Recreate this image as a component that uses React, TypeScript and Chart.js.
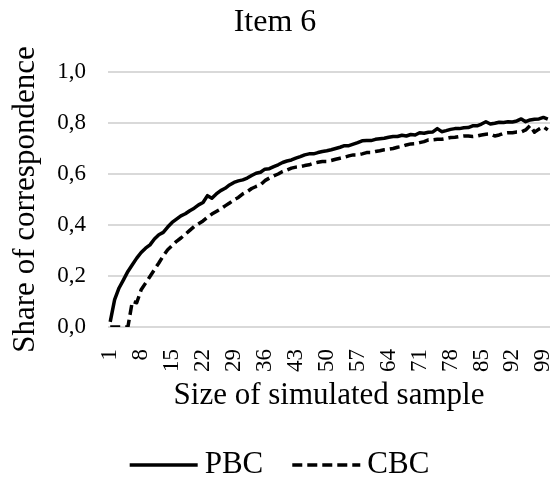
import React, { useEffect, useRef } from 'react';
import { Chart, registerables } from 'chart.js';

Chart.register(...registerables);

const FONT = "'Times New Roman', 'Liberation Serif', serif";

const chartTitle = 'Item 6';
const xAxisTitle = 'Size of simulated sample';
const yAxisTitle = 'Share of correspondence';

const sampleSizes = [
  '1', '2', '3', '4', '5', '6', '7', '8', '9', '10',
  '11', '12', '13', '14', '15', '16', '17', '18', '19', '20',
  '21', '22', '23', '24', '25', '26', '27', '28', '29', '30',
  '31', '32', '33', '34', '35', '36', '37', '38', '39', '40',
  '41', '42', '43', '44', '45', '46', '47', '48', '49', '50',
  '51', '52', '53', '54', '55', '56', '57', '58', '59', '60',
  '61', '62', '63', '64', '65', '66', '67', '68', '69', '70',
  '71', '72', '73', '74', '75', '76', '77', '78', '79', '80',
  '81', '82', '83', '84', '85', '86', '87', '88', '89', '90',
  '91', '92', '93', '94', '95', '96', '97', '98', '99', '100',
];

const xTickLabels = ['1', '8', '15', '22', '29', '36', '43', '50', '57', '64', '71', '78', '85', '92', '99'];
const yTickValues = [0, 0.2, 0.4, 0.6, 0.8, 1.0];
const yTickLabels = ['0,0', '0,2', '0,4', '0,6', '0,8', '1,0'];

const pbcLabel = 'PBC';
const cbcLabel = 'CBC';

const pbcValues = [
  0.02, 0.107, 0.153, 0.185, 0.218, 0.244, 0.27, 0.292, 0.309, 0.322,
  0.345, 0.362, 0.371, 0.392, 0.41, 0.423, 0.436, 0.444, 0.456, 0.466,
  0.479, 0.488, 0.515, 0.505, 0.522, 0.535, 0.544, 0.557, 0.567, 0.573,
  0.577, 0.584, 0.594, 0.603, 0.607, 0.619, 0.621, 0.629, 0.636, 0.645,
  0.651, 0.655, 0.662, 0.668, 0.675, 0.679, 0.679, 0.684, 0.688, 0.691,
  0.695, 0.7, 0.705, 0.711, 0.711, 0.717, 0.723, 0.73, 0.731, 0.731,
  0.736, 0.738, 0.74, 0.744, 0.747, 0.747, 0.752, 0.749, 0.755, 0.753,
  0.762, 0.76, 0.764, 0.765, 0.778, 0.766, 0.77, 0.775, 0.778, 0.778,
  0.781, 0.782, 0.789, 0.789, 0.796, 0.805, 0.796, 0.799, 0.803, 0.802,
  0.805, 0.804, 0.808, 0.816, 0.805, 0.812, 0.815, 0.816, 0.822, 0.815,
];

const cbcValues = [
  0, 0, 0, 0, 0, 0.1, 0.095, 0.146, 0.172, 0.198,
  0.225, 0.251, 0.279, 0.303, 0.319, 0.336, 0.349, 0.364, 0.379, 0.394,
  0.405, 0.416, 0.43, 0.443, 0.453, 0.463, 0.475, 0.486, 0.499, 0.508,
  0.522, 0.531, 0.543, 0.551, 0.557, 0.574, 0.584, 0.593, 0.6, 0.61,
  0.616, 0.623, 0.627, 0.629, 0.633, 0.636, 0.642, 0.646, 0.649, 0.649,
  0.653, 0.658, 0.662, 0.666, 0.671, 0.675, 0.675, 0.679, 0.684, 0.684,
  0.688, 0.691, 0.695, 0.697, 0.7, 0.705, 0.708, 0.714, 0.718, 0.719,
  0.723, 0.727, 0.734, 0.734, 0.736, 0.736, 0.739, 0.743, 0.744, 0.747,
  0.749, 0.749, 0.747, 0.749, 0.753, 0.756, 0.757, 0.749, 0.753, 0.76,
  0.762, 0.762, 0.765, 0.765, 0.773, 0.79, 0.764, 0.776, 0.785, 0.773,
];

const lineLegendPlugin = {
  id: 'lineLegend',
  afterDraw(chart: any, _args: any, opts: any) {
    const ctx = chart.ctx as CanvasRenderingContext2D;
    ctx.save();
    ctx.font = `${opts.fontSize}px ${FONT}`;
    const items = chart.data.datasets.map((ds: any) => ({
      label: ds.label as string,
      w: ctx.measureText(ds.label).width,
      dash: ds.borderDash || [],
      color: ds.borderColor,
      lw: ds.borderWidth,
    }));
    const total =
      items.reduce((s: number, it: any) => s + opts.lineLength + opts.textGap + it.w, 0) +
      opts.itemGap * (items.length - 1);
    let x = chart.width / 2 - total / 2;
    const y = opts.y;
    items.forEach((it: any) => {
      ctx.beginPath();
      ctx.setLineDash(it.dash);
      ctx.lineWidth = it.lw;
      ctx.strokeStyle = it.color;
      ctx.lineCap = 'butt';
      ctx.moveTo(x, y);
      ctx.lineTo(x + opts.lineLength, y);
      ctx.stroke();
      ctx.setLineDash([]);
      x += opts.lineLength + opts.textGap;
      ctx.fillStyle = '#000';
      ctx.textAlign = 'left';
      ctx.textBaseline = 'middle';
      ctx.fillText(it.label, x, y);
      x += it.w + opts.itemGap;
    });
    ctx.restore();
  },
};

export default function App() {
  const canvasRef = useRef<HTMLCanvasElement | null>(null);

  useEffect(() => {
    if (!canvasRef.current) return;
    const chart = new Chart(canvasRef.current, {
      type: 'line',
      data: {
        labels: sampleSizes,
        datasets: [
          {
            label: pbcLabel,
            data: pbcValues,
            borderColor: '#000',
            backgroundColor: '#000',
            borderWidth: 3.5,
            pointRadius: 0,
            tension: 0,
            borderJoinStyle: 'round',
            fill: false,
          },
          {
            label: cbcLabel,
            data: cbcValues,
            borderColor: '#000',
            backgroundColor: '#000',
            borderWidth: 3.5,
            borderDash: [10, 5],
            pointRadius: 0,
            tension: 0,
            borderJoinStyle: 'round',
            fill: false,
          },
        ],
      },
      options: {
        responsive: false,
        animation: false,
        layout: { padding: { left: 0, right: 9, top: 0, bottom: 76 } },
        plugins: {
          legend: { display: false },
          tooltip: { enabled: false },
          title: {
            display: true,
            text: chartTitle,
            color: '#000',
            font: { family: FONT, size: 32, weight: 'normal', lineHeight: 1.2 },
            padding: { top: 3.3, bottom: 30.3 },
          },
          lineLegend: { y: 465, lineLength: 68, textGap: 7, itemGap: 29, fontSize: 31 },
        } as any,
        scales: {
          x: {
            type: 'category',
            offset: true,
            grid: { display: false },
            border: { display: false },
            ticks: {
              autoSkip: false,
              minRotation: 90,
              maxRotation: 90,
              padding: 14,
              color: '#000',
              font: { family: FONT, size: 23 },
              callback: function (this: any, value: any) {
                const lab = this.getLabelForValue(value);
                return xTickLabels.includes(lab) ? lab : null;
              },
            },
            title: {
              display: true,
              text: xAxisTitle,
              color: '#000',
              font: { family: FONT, size: 31, lineHeight: 1.2 },
              padding: { top: 0, bottom: 0 },
            },
            afterFit: (s: any) => {
              s.height = 87;
              s.paddingLeft = 0;
              s.paddingRight = 0;
            },
          },
          y: {
            min: 0,
            max: 1,
            ticks: {
              stepSize: 0.2,
              padding: 22,
              color: '#000',
              font: { family: FONT, size: 23 },
              callback: (v: any) => {
                const idx = yTickValues.findIndex((t) => Math.abs(t - Number(v)) < 1e-6);
                return idx >= 0 ? yTickLabels[idx] : null;
              },
            },
            grid: { color: '#d9d9d9', lineWidth: 2, drawTicks: false },
            border: { display: false },
            title: {
              display: true,
              text: yAxisTitle,
              color: '#000',
              font: { family: FONT, size: 31, lineHeight: 1.2 },
              padding: { top: 7.4, bottom: 0 },
            },
            afterFit: (s: any) => {
              s.width = 108;
              s.paddingTop = 0;
              s.paddingBottom = 0;
            },
          },
        },
      } as any,
      plugins: [lineLegendPlugin],
    });
    return () => chart.destroy();
  }, []);

  return (
    <div style={{ position: 'fixed', left: 0, top: 0, width: 559, height: 490, background: '#fff' }}>
      <canvas ref={canvasRef} width={559} height={490} style={{ width: 559, height: 490, display: 'block' }} />
    </div>
  );
}
